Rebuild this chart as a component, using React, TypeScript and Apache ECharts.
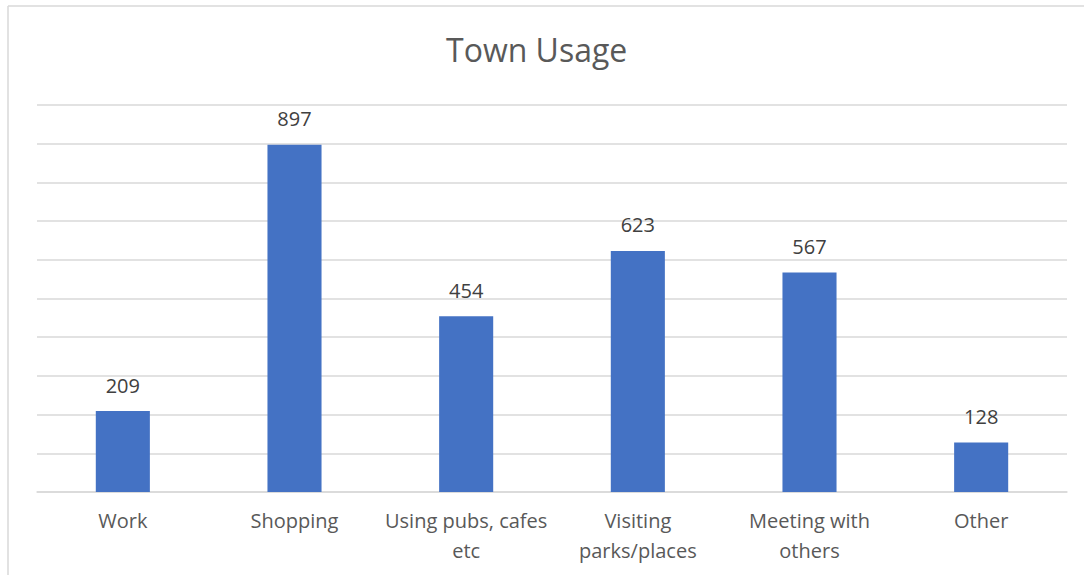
import React, { useEffect, useRef } from "react";
import * as echarts from "echarts";

const categories = ["Work", "Shopping", "Using pubs, cafes\netc", "Visiting\nparks/places", "Meeting with\nothers", "Other"];
const values = [209, 897, 454, 623, 567, 128];
const titleText = "Town Usage";

export default function App() {
  const ref = useRef<HTMLDivElement>(null);
  useEffect(() => {
    const chart = echarts.init(ref.current!, null, { renderer: "svg" });
    const font = "'Open Sans', sans-serif";
    chart.setOption({
      animation: false,
      backgroundColor: "#ffffff",
      title: {
        text: titleText,
        left: 441,
        top: 28,
        textStyle: { fontFamily: font, fontSize: 32, fontWeight: "normal", color: "#595959" },
      },
      grid: { left: 37, right: 17, top: 105, bottom: 83 },
      xAxis: {
        type: "category",
        data: categories,
        axisLine: { lineStyle: { color: "#d9d9d9", width: 1.5 } },
        axisTick: { show: false },
        axisLabel: { fontFamily: font, fontSize: 20, color: "#595959", margin: 13, lineHeight: 30, interval: 0 },
      },
      yAxis: {
        type: "value",
        min: 0,
        max: 1000,
        interval: 100,
        axisLabel: { show: false },
        axisLine: { show: false },
        axisTick: { show: false },
        splitLine: { lineStyle: { color: "#d9d9d9", width: 1.5 } },
      },
      series: [
        {
          type: "bar",
          data: values,
          barWidth: "31.5%",
          itemStyle: { color: "#4472c4" },
          label: { show: true, position: "top", distance: 16, fontFamily: font, fontSize: 20, color: "#404040" },
        },
      ],
      graphic: [
        { type: "line", shape: { x1: 8, y1: 6, x2: 1084, y2: 6 }, style: { stroke: "#d9d9d9", lineWidth: 1.5 } },
        { type: "line", shape: { x1: 8, y1: 6, x2: 8, y2: 575 }, style: { stroke: "#d9d9d9", lineWidth: 1.5 } },
      ],
    });
    return () => chart.dispose();
  }, []);
  return <div ref={ref} style={{ position: "absolute", left: 0, top: 0, width: 1084, height: 575 }} />;
}
